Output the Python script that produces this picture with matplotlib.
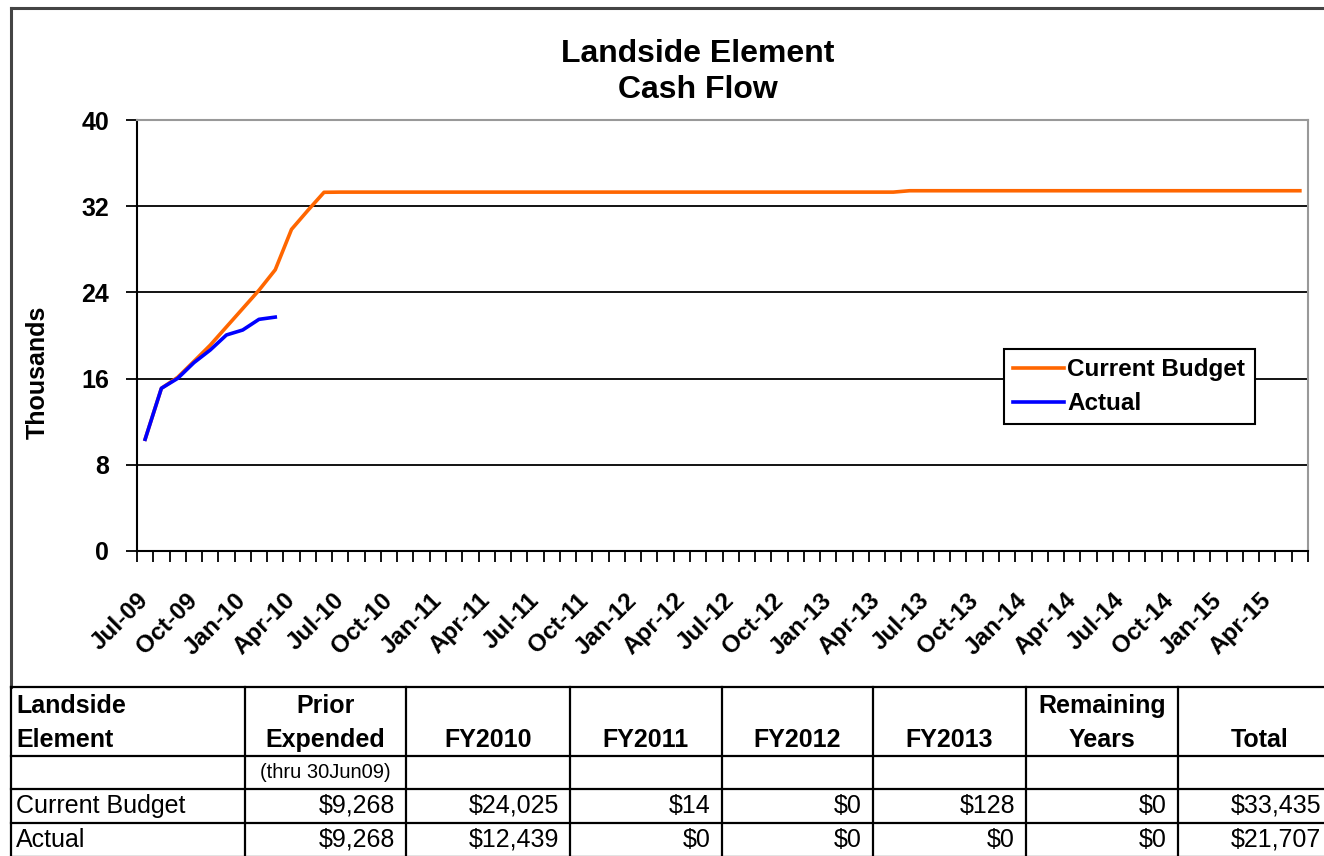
import numpy as np
import pandas as pd
import matplotlib
matplotlib.use("Agg")
import matplotlib.pyplot as plt
from matplotlib.lines import Line2D

plt.rcParams['font.family'] = ['Liberation Sans', 'DejaVu Sans']

# monthly categories Jul-09 .. Jun-15
months = pd.date_range('2009-07-01', periods=72, freq='MS').strftime('%b-%y').tolist()

# cumulative cash flow, thousands
current_budget = ([10.37, 15.10, 16.12, 17.60, 19.10, 20.80, 22.50, 24.20, 26.10, 29.85, 31.60, 33.29]
                  + [33.307] * 35 + [33.435] * 25)
actual = [10.37, 15.10, 16.02, 17.48, 18.65, 20.05, 20.51, 21.50, 21.707]

# table below the chart
table_header = ['Landside\nElement', 'Prior\nExpended', 'FY2010', 'FY2011', 'FY2012',
                'FY2013', 'Remaining\nYears', 'Total']
table_note = '(thru 30Jun09)'
budget_row = ['Current Budget', '$9,268', '$24,025', '$14', '$0', '$128', '$0', '$33,435']
actual_row = ['Actual', '$9,268', '$12,439', '$0', '$0', '$0', '$0', '$21,707']

W, H = 1324, 856
fig = plt.figure(figsize=(W / 100, H / 100), dpi=100)

# plot area in pixels: left 137, right 1308, top 120, bottom 551
ax = fig.add_axes([137 / W, 1 - 551 / H, 1171 / W, 431 / H])
x = np.arange(len(months))
ax.plot(x, current_budget, color='#FF6600', lw=2.6, label='Current Budget', zorder=3)
ax.plot(x[:len(actual)], actual, color='#0000FF', lw=2.6, label='Actual', zorder=4)

ax.set_xlim(-0.5, len(months) - 0.5)
ax.set_ylim(0, 40)
ax.set_yticks(np.arange(0, 41, 8))
ax.set_yticklabels([str(v) for v in range(0, 41, 8)], fontsize=18, fontweight='bold')
ax.tick_params(axis='y', direction='out', length=8, width=1.3, pad=12)
for v in range(8, 40, 8):
    ax.axhline(v, color='black', lw=1.3, zorder=1)

# tick marks between categories, labels every third month
ax.set_xticks(np.arange(-0.5, len(months), 1))
ax.set_xticklabels([])
ax.tick_params(axis='x', which='major', direction='out', length=8, width=1.3)
lab_pos = x[::3]
ax.set_xticks(lab_pos, [months[i] for i in lab_pos], minor=True)
ax.tick_params(axis='x', which='minor', length=0, pad=33)
for t in ax.get_xticklabels(minor=True):
    t.set_rotation(45)
    t.set_ha('right')
    t.set_va('center')
    t.set_rotation_mode('anchor')
    t.set_fontsize(17.5)
    t.set_fontweight('bold')

for s in ['left', 'bottom']:
    ax.spines[s].set_color('black')
    ax.spines[s].set_linewidth(1.5)
for s in ['top', 'right']:
    ax.spines[s].set_color('#999999')
    ax.spines[s].set_linewidth(1.5)

leg = ax.legend(loc='upper left', bbox_to_anchor=(0.740, 0.4687), borderaxespad=0,
                frameon=True, fancybox=False, edgecolor='black', framealpha=1,
                prop={'size': 17.5, 'weight': 'bold'}, handlelength=2.1,
                handletextpad=0.15, labelspacing=0.45, borderpad=0.38)
leg.get_frame().set_linewidth(1.5)

fig.text(698 / W, 1 - 72 / H, 'Landside Element\nCash Flow', ha='center', va='center',
         fontsize=23, fontweight='bold', linespacing=1.3)
fig.text(38 / W, 1 - 372 / H, 'Thousands', rotation=90, ha='center', va='center',
         fontsize=18, fontweight='bold')

# overlay for frame and table, pixel coordinates
tax = fig.add_axes([0, 0, 1, 1], zorder=-1)
tax.set_xlim(0, W)
tax.set_ylim(H, 0)
tax.axis('off')

tax.add_line(Line2D([11, 11], [8, 687], color='#444444', lw=2.2))
tax.add_line(Line2D([11, W], [8, 8], color='#444444', lw=2.2))

col_x = [11, 245, 406, 570, 722, 873, 1026, 1178, 1342]
row_y = [687, 756, 789, 823, 857]
for yy in row_y:
    tax.add_line(Line2D([col_x[0], col_x[-1]], [yy, yy], color='black', lw=1.6))
for xx in col_x:
    tax.add_line(Line2D([xx, xx], [row_y[0], row_y[-1]], color='black', lw=1.6))

hfs = 18
for j, txt in enumerate(table_header):
    lines = txt.split('\n')
    if j == 0:
        tx, ha = col_x[0] + 5, 'left'
    else:
        tx, ha = (col_x[j] + col_x[j + 1]) / 2, 'center'
    if j == len(table_header) - 1:
        tx = 1260
    tax.text(tx, 740, lines[-1], ha=ha, va='center', fontsize=hfs, fontweight='bold')
    if len(lines) > 1:
        tax.text(tx, 706, lines[0], ha=ha, va='center', fontsize=hfs, fontweight='bold')
tax.text((col_x[1] + col_x[2]) / 2, 773, table_note, ha='center', va='center', fontsize=14.5)

for row, yc in [(budget_row, 806), (actual_row, 840)]:
    tax.text(col_x[0] + 5, yc, row[0], ha='left', va='center', fontsize=18)
    for j in range(1, len(row)):
        right = col_x[j + 1] - 11 if j < len(row) - 1 else W - 3
        tax.text(right, yc, row[j], ha='right', va='center', fontsize=18)

fig.savefig('out.png', dpi=100)
